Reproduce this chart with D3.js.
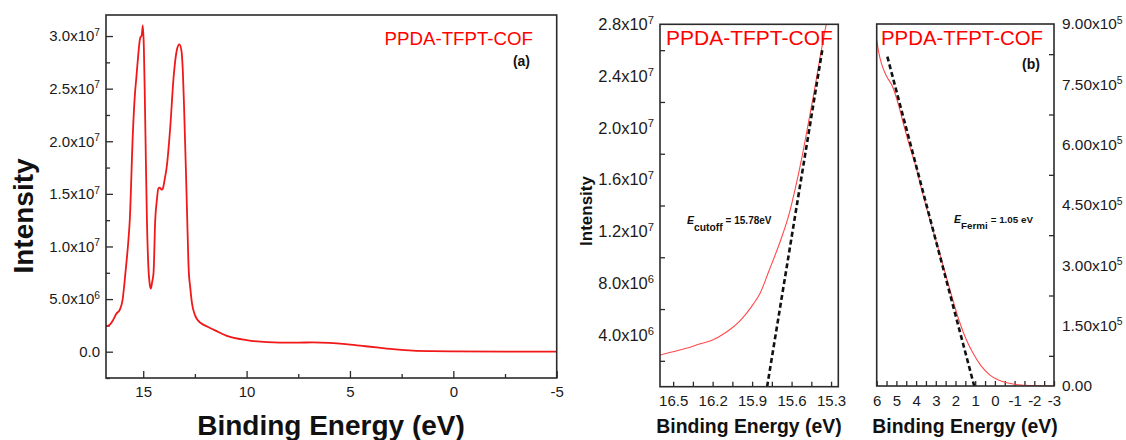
<!DOCTYPE html>
<html>
<head>
<meta charset="utf-8">
<script src="https://cdn.jsdelivr.net/npm/d3@7/dist/d3.min.js"></script>
<style>
  body { margin: 0; background: #fff; }
  svg { font-family: "Liberation Sans", Arial, sans-serif; }
</style>
</head>
<body>
<svg id="chart" width="1126" height="440"></svg>
<script>
// ---- data ----
// (a) full UPS spectrum
const energyA = [16.8, 16.6, 16.46, 16.3, 16.13, 16.0, 15.85, 15.72, 15.65, 15.5, 15.4, 15.33, 15.25, 15.15, 15.07, 15.02,
  14.97, 14.92, 14.87, 14.82, 14.76, 14.69, 14.63, 14.57, 14.5, 14.42, 14.34, 14.27, 14.21, 14.1, 14.05, 13.95, 13.86,
  13.69, 13.53, 13.37, 13.25, 13.15, 13.08, 13.02, 12.94, 12.87, 12.8, 12.72, 12.64, 12.5, 12.4, 12.2, 11.91, 11.5,
  10.95, 10.0, 9.0, 8.4, 7.5, 6.8, 6.0, 5.2, 4.4, 3.6, 2.8, 1.95, 1.0, 0, -2.5, -5];
const intensityA = [2.4e6, 2.6e6, 3.0e6, 3.6e6, 4.0e6, 4.9e6, 7.7e6, 10.5e6, 12.5e6, 20.8e6, 24.5e6, 26.1e6, 28.0e6, 29.8e6, 30.1e6, 31.0e6,
  29.0e6, 24.0e6, 18.0e6, 12.5e6, 8.5e6, 6.5e6, 6.0e6, 6.6e6, 7.5e6, 12.5e6, 14.4e6, 15.5e6, 15.6e6, 15.4e6, 15.5e6, 16.5e6, 17.6e6,
  21.4e6, 26.1e6, 28.7e6, 29.2e6, 28.6e6, 26.5e6, 23.0e6, 17.6e6, 12.5e6, 7.8e6, 6.0e6, 4.6e6, 3.5e6, 3.1e6, 2.7e6, 2.4e6, 2.0e6,
  1.5e6, 1.1e6, 0.9e6, 0.86e6, 0.86e6, 0.89e6, 0.84e6, 0.72e6, 0.55e6, 0.38e6, 0.22e6, 0.1e6, 0.05e6, 0.03e6, 0.01e6, 0.01e6];

// (b, left) secondary electron cutoff
const energyCut = [16.6, 16.5, 16.4, 16.3, 16.2, 16.13, 16.07, 16.0, 15.94, 15.89, 15.84, 15.77, 15.72, 15.67, 15.62, 15.57, 15.52, 15.47, 15.43, 15.37, 15.33, 15.29];
const intensityCut = [2.45e6, 2.7e6, 2.97e6, 3.3e6, 3.6e6, 4.0e6, 4.4e6, 5.0e6, 5.7e6, 6.4e6, 7.2e6, 9.0e6, 10.3e6, 11.7e6, 13.3e6, 15.4e6, 17.8e6, 20.5e6, 22.7e6, 26.2e6, 28.3e6, 29.5e6];
const fitCutE = [15.786, 15.367];
const fitCutI = [0, 2.6e7];

// (b, right) Fermi edge region
const energyFermi = [6.0, 5.9, 5.75, 5.5, 5.19, 4.9, 4.65, 4.35, 4.06, 3.7, 3.3, 2.95, 2.62, 2.2, 1.77, 1.45, 1.1, 0.7, 0.25, -0.2, -0.6, -1.2, -1.8, -3];
const intensityFermi = [8.6e5, 8.3e5, 8.0e5, 7.7e5, 7.44e5, 7.0e5, 6.53e5, 6.0e5, 5.54e5, 4.85e5, 4.13e5, 3.55e5, 2.97e5, 2.25e5, 1.56e5, 1.15e5, 0.81e5, 0.5e5, 0.27e5, 0.14e5, 0.08e5, 0.03e5, 0.01e5, 0];
const fitFermiE = [5.46, 1.05];
const fitFermiI = [8.19e5, 0];

// tick values
const ticksAy = [0, 5e6, 1e7, 1.5e7, 2e7, 2.5e7, 3e7];
const minorAy = [-2.5e6, 2.5e6, 7.5e6, 1.25e7, 1.75e7, 2.25e7, 2.75e7];
const ticksAx = [15, 10, 5, 0, -5];
const minorAx = [12.5, 7.5, 2.5, -2.5];
const ticksCutY = [4e6, 8e6, 1.2e7, 1.6e7, 2e7, 2.4e7, 2.8e7];
const minorCutY = [2e6, 6e6, 1e7, 1.4e7, 1.8e7, 2.2e7, 2.6e7];
const ticksCutX = [16.5, 16.2, 15.9, 15.6, 15.3];
const minorCutX = [16.5, 16.35, 16.2, 16.05, 15.9, 15.75, 15.6, 15.45, 15.3];
const ticksFermiY = [0, 1.5e5, 3e5, 4.5e5, 6e5, 7.5e5, 9e5];
const minorFermiY = [0.75e5, 2.25e5, 3.75e5, 5.25e5, 6.75e5, 8.25e5];
const ticksFermiX = [6, 5, 4, 3, 2, 1, 0, -1, -2, -3];
const minorFermiX = [5.5, 4.5, 3.5, 2.5, 1.5, 0.5, -0.5, -1.5, -2.5];

const svg = d3.select('#chart');
const frameColor = '#2b2b2b';

// plain hyphen for negatives, like the original
const hyph = f => v => f(v).replace('\u2212', '-');

// write "3.0x10^7" style labels with a real superscript
function sciLabels(sel, dec, size) {
  sel.each(function (v) {
    const t = d3.select(this);
    t.text(null);
    if (v === 0) { t.text((0).toFixed(dec)); return; }
    const e = Math.floor(Math.log10(Math.abs(v)) + 1e-9);
    t.append('tspan').text((v / Math.pow(10, e)).toFixed(dec) + 'x10');
    t.append('tspan').attr('dy', '-0.55em').attr('font-size', size * 0.68).text(e);
  });
}

function styleAxis(g) {
  g.select('.domain').remove();
  g.selectAll('line').attr('stroke', frameColor).attr('stroke-width', 1.3);
  g.selectAll('text').attr('fill', '#1a1a1a');
}

function panel(cfg) {
  const x = d3.scaleLinear().domain(cfg.xDomain).range([cfg.left, cfg.right]);
  const y = d3.scaleLinear().domain(cfg.yDomain).range([cfg.bottom, cfg.top]);
  const id = 'clip' + cfg.name;
  svg.append('clipPath').attr('id', id).append('rect')
    .attr('x', cfg.left).attr('y', cfg.top)
    .attr('width', cfg.right - cfg.left).attr('height', cfg.bottom - cfg.top);
  return { x, y, clip: `url(#${id})` };
}

// ---------------- panel (a) ----------------
const A = panel({ name: 'A', left: 106, right: 556.7, top: 15, bottom: 378, xDomain: [16.8, -5], yDomain: [-2.5e6, 3.2e7] });

svg.append('g').attr('transform', 'translate(106,0)')
  .call(d3.axisLeft(A.y).tickValues(minorAy).tickSize(-4).tickFormat(''))
  .call(styleAxis);
svg.append('g').attr('transform', 'translate(106,0)')
  .call(d3.axisLeft(A.y).tickValues(ticksAy).tickSize(-7).tickPadding(6))
  .call(styleAxis)
  .call(g => g.selectAll('text').attr('font-size', 15).call(sciLabels, 1, 15));
svg.append('g').attr('transform', 'translate(0,378)')
  .call(d3.axisBottom(A.x).tickValues(minorAx).tickSize(-4).tickFormat(''))
  .call(styleAxis);
svg.append('g').attr('transform', 'translate(0,378)')
  .call(d3.axisBottom(A.x).tickValues(ticksAx).tickSize(-7).tickPadding(8).tickFormat(hyph(d3.format('d'))))
  .call(styleAxis)
  .call(g => g.selectAll('text').attr('font-size', 15));

svg.append('path')
  .datum(energyA.map((e, i) => [e, intensityA[i]]))
  .attr('clip-path', A.clip)
  .attr('fill', 'none').attr('stroke', '#f01818').attr('stroke-width', 1.8)
  .attr('d', d3.line().x(d => A.x(d[0])).y(d => A.y(d[1])).curve(d3.curveMonotoneX));

svg.append('rect').attr('x', 106).attr('y', 15).attr('width', 450.7).attr('height', 363)
  .attr('fill', 'none').attr('stroke', frameColor).attr('stroke-width', 1.6);

svg.append('text').attr('x', 533).attr('y', 45).attr('text-anchor', 'end')
  .attr('font-size', 18.7).attr('fill', '#ff0000').text('PPDA-TFPT-COF');
svg.append('text').attr('x', 530).attr('y', 66).attr('text-anchor', 'end')
  .attr('font-size', 14).attr('font-weight', 'bold').attr('fill', '#111').text('(a)');

svg.append('text').attr('transform', 'translate(33,216) rotate(-90)').attr('text-anchor', 'middle')
  .attr('font-size', 28).attr('font-weight', 'bold').attr('fill', '#111').text('Intensity');
svg.append('text').attr('x', 331).attr('y', 435).attr('text-anchor', 'middle')
  .attr('font-size', 28).attr('font-weight', 'bold').attr('fill', '#111').text('Binding Energy (eV)');

// ---------------- panel (b) left: cutoff ----------------
const B = panel({ name: 'B', left: 660, right: 838.3, top: 24.3, bottom: 386.7, xDomain: [16.6, 15.245], yDomain: [0, 2.8e7] });

svg.append('g').attr('transform', 'translate(660,0)')
  .call(d3.axisLeft(B.y).tickValues(minorCutY).tickSize(-5).tickFormat(''))
  .call(styleAxis);
svg.append('g').attr('transform', 'translate(660,0)')
  .call(d3.axisLeft(B.y).tickValues(ticksCutY).tickSize(0).tickPadding(6))
  .call(styleAxis)
  .call(g => g.selectAll('text').attr('font-size', 16.5).call(sciLabels, 1, 16.5));
svg.append('g').attr('transform', 'translate(0,386.7)')
  .call(d3.axisBottom(B.x).tickValues(minorCutX).tickSize(-5).tickFormat(''))
  .call(styleAxis);
svg.append('g').attr('transform', 'translate(0,386.7)')
  .call(d3.axisBottom(B.x).tickValues(ticksCutX).tickSize(0).tickPadding(9).tickFormat(d3.format('.1f')))
  .call(styleAxis)
  .call(g => g.selectAll('text').attr('font-size', 15));

svg.append('path')
  .datum(energyCut.map((e, i) => [e, intensityCut[i]]))
  .attr('clip-path', B.clip)
  .attr('fill', 'none').attr('stroke', '#ff4a4a').attr('stroke-width', 1.1)
  .attr('d', d3.line().x(d => B.x(d[0])).y(d => B.y(d[1])).curve(d3.curveMonotoneX));
svg.append('path')
  .datum(fitCutE.map((e, i) => [e, fitCutI[i]]))
  .attr('fill', 'none').attr('stroke', '#111').attr('stroke-width', 2.6).attr('stroke-dasharray', '5,3')
  .attr('d', d3.line().x(d => B.x(d[0])).y(d => B.y(d[1])));

svg.append('rect').attr('x', 660).attr('y', 24.3).attr('width', 178.3).attr('height', 362.4)
  .attr('fill', 'none').attr('stroke', frameColor).attr('stroke-width', 1.6);

svg.append('text').attr('x', 666).attr('y', 44.5)
  .attr('font-size', 21).attr('fill', '#ff0000').text('PPDA-TFPT-COF');

const cut = svg.append('text').attr('x', 687).attr('y', 224).attr('font-size', 10).attr('font-weight', 'bold').attr('fill', '#111');
cut.append('tspan').attr('font-style', 'italic').attr('font-size', 10.5).text('E');
cut.append('tspan').attr('dy', 7).attr('font-size', 10.3).text('cutoff');
cut.append('tspan').attr('dy', -7).attr('dx', 3).text('= 15.78eV');

svg.append('text').attr('transform', 'translate(592,211) rotate(-90)').attr('text-anchor', 'middle')
  .attr('font-size', 17).attr('font-weight', 'bold').attr('fill', '#111').text('Intensity');
svg.append('text').attr('x', 749).attr('y', 433).attr('text-anchor', 'middle')
  .attr('font-size', 19.4).attr('font-weight', 'bold').attr('fill', '#111').text('Binding Energy (eV)');

// ---------------- panel (b) right: Fermi edge ----------------
const C = panel({ name: 'C', left: 876.7, right: 1054, top: 24, bottom: 386, xDomain: [6, -3], yDomain: [0, 9e5] });

svg.append('g').attr('transform', 'translate(1054,0)')
  .call(d3.axisRight(C.y).tickValues(minorFermiY).tickSize(-5).tickFormat(''))
  .call(styleAxis);
svg.append('g').attr('transform', 'translate(1054,0)')
  .call(d3.axisRight(C.y).tickValues(ticksFermiY).tickSize(0).tickPadding(8))
  .call(styleAxis)
  .call(g => g.selectAll('text').attr('font-size', 15.4).call(sciLabels, 2, 15.4));
svg.append('g').attr('transform', 'translate(0,386)')
  .call(d3.axisBottom(C.x).tickValues(minorFermiX.concat(ticksFermiX)).tickSize(-5).tickFormat(''))
  .call(styleAxis);
svg.append('g').attr('transform', 'translate(0,386)')
  .call(d3.axisBottom(C.x).tickValues(ticksFermiX).tickSize(0).tickPadding(9).tickFormat(hyph(d3.format('d'))))
  .call(styleAxis)
  .call(g => g.selectAll('text').attr('font-size', 15));

svg.append('path')
  .datum(energyFermi.map((e, i) => [e, intensityFermi[i]]))
  .attr('clip-path', C.clip)
  .attr('fill', 'none').attr('stroke', '#ff4a4a').attr('stroke-width', 1.1)
  .attr('d', d3.line().x(d => C.x(d[0])).y(d => C.y(d[1])).curve(d3.curveMonotoneX));
svg.append('path')
  .datum(fitFermiE.map((e, i) => [e, fitFermiI[i]]))
  .attr('fill', 'none').attr('stroke', '#111').attr('stroke-width', 2.6).attr('stroke-dasharray', '5,3')
  .attr('d', d3.line().x(d => C.x(d[0])).y(d => C.y(d[1])));

svg.append('rect').attr('x', 876.7).attr('y', 24).attr('width', 177.3).attr('height', 362)
  .attr('fill', 'none').attr('stroke', frameColor).attr('stroke-width', 1.6);

svg.append('text').attr('x', 1043).attr('y', 45).attr('text-anchor', 'end')
  .attr('font-size', 20.4).attr('fill', '#ff0000').text('PPDA-TFPT-COF');
svg.append('text').attr('x', 1040).attr('y', 69).attr('text-anchor', 'end')
  .attr('font-size', 14).attr('font-weight', 'bold').attr('fill', '#111').text('(b)');

const fermi = svg.append('text').attr('x', 954).attr('y', 223).attr('font-size', 9.8).attr('font-weight', 'bold').attr('fill', '#111');
fermi.append('tspan').attr('font-style', 'italic').attr('font-size', 10.5).text('E');
fermi.append('tspan').attr('dy', 6).text('Fermi');
fermi.append('tspan').attr('dy', -6).attr('dx', 3).text('= 1.05 eV');

svg.append('text').attr('x', 965).attr('y', 433).attr('text-anchor', 'middle')
  .attr('font-size', 19.4).attr('font-weight', 'bold').attr('fill', '#111').text('Binding Energy (eV)');
</script>
</body>
</html>
